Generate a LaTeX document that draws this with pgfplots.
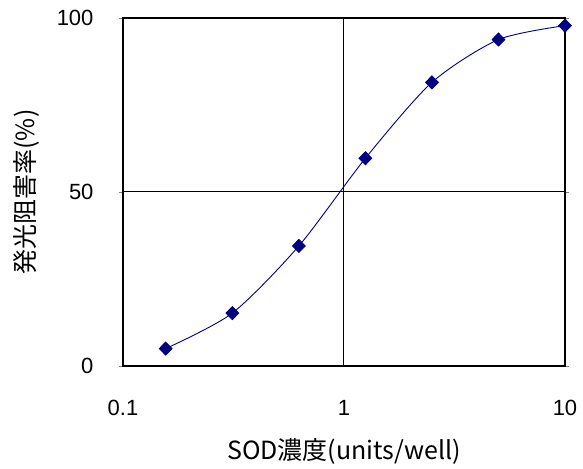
\documentclass[border=0pt]{standalone}
\usepackage{fontspec}
\setmainfont{Liberation Sans}
\newfontfamily\jp{Noto Sans CJK JP}
\usepackage{pgfplots}
\pgfplotsset{compat=1.18}
\definecolor{navy}{RGB}{0,0,128}
\begin{document}
\begin{tikzpicture}
\begin{axis}[
  scale only axis,
  width=442pt, height=348pt,
  xmode=log, xmin=0.1, xmax=10,
  ymin=0, ymax=100,
  xtick={0.1,1,10}, xticklabels={0.1,1,10},
  ytick={0,50,100},
  minor xtick={},
  log ticks with fixed point,
  /pgf/number format/assume math mode=true,
  tick label style={font=\fontsize{22}{25}\selectfont},
  tick align=outside, major tick length=4pt,
  xtick style={draw=none},
  grid=major,
  major grid style={black, line width=1pt},
  axis line style={black, line width=1.3pt},
  yticklabel style={xshift=-22pt},
  xticklabel style={yshift=-27pt},
  xlabel={\jp SOD濃度(units/well)},
  ylabel={\jp 発光阻害率(\%)},
  label style={font=\fontsize{25}{28}\selectfont},
  xlabel style={yshift=-16pt},
  ylabel style={yshift=10pt},
]
\addplot[navy, line width=0.9pt, smooth, tension=0.45, mark=diamond*, mark size=6.5pt, mark options={fill=navy, draw=navy, solid, xscale=1.3}]
coordinates {
(0.156,5) (0.3125,15.2) (0.625,34.5) (1.25,59.7) (2.5,81.5) (5,93.8) (10,97.8)
};
\end{axis}
\path (current axis.south west) ++(-123pt,-93pt);
\path (current axis.north east) ++(18pt,18pt);
\end{tikzpicture}
\end{document}
